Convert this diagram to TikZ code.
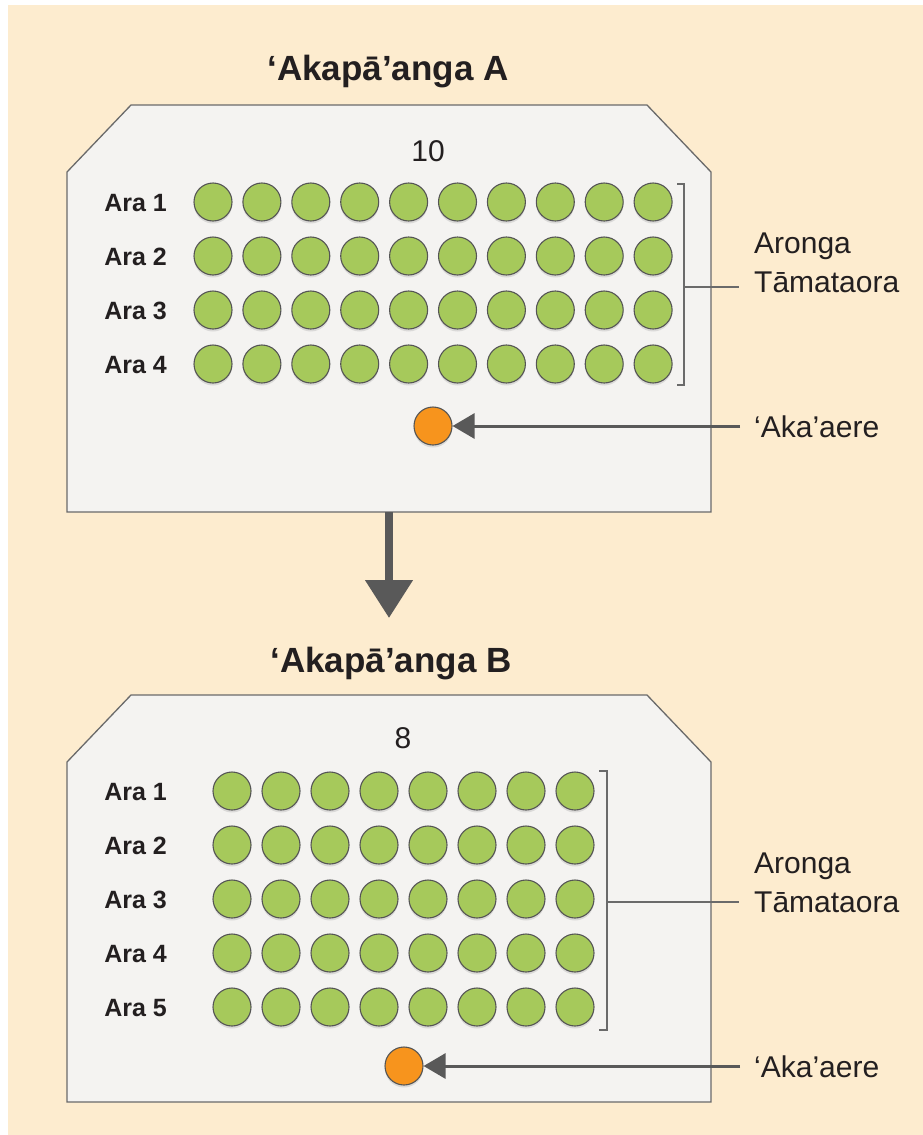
\documentclass[tikz,border=0pt]{standalone}
\usepackage{fontspec}
\setmainfont{Liberation Sans}
\usetikzlibrary{arrows.meta,shadows}
\definecolor{cream}{HTML}{FDECCF}
\definecolor{boxfill}{HTML}{F4F3F1}
\definecolor{boxline}{HTML}{6A6A6A}
\definecolor{seat}{HTML}{A6C95B}
\definecolor{seatline}{HTML}{555555}
\definecolor{teacher}{HTML}{F7941D}
\definecolor{arrowgray}{HTML}{595959}
\definecolor{ink}{HTML}{231F20}
\begin{document}
\begin{tikzpicture}[x=1pt,y=-1pt,
  room/.style={fill=boxfill,draw=boxline,line width=1.3pt},
  seatnode/.style={circle,minimum size=38pt,inner sep=0pt,fill=seat,draw=seatline,line width=1.1pt,
    drop shadow={shadow xshift=0pt,shadow yshift=-2.5pt,opacity=0.22}},
  teachernode/.style={circle,minimum size=38pt,inner sep=0pt,fill=teacher,draw=seatline,line width=1.1pt,
    drop shadow={shadow xshift=0pt,shadow yshift=-2.5pt,opacity=0.22}},
  rowlabel/.style={anchor=base east,font=\bfseries\fontsize{25}{29}\selectfont,text=ink,inner sep=0pt},
  titletext/.style={anchor=base,font=\bfseries\fontsize{35}{40}\selectfont,text=ink,inner sep=0pt},
  counttext/.style={anchor=base,font=\fontsize{30}{36}\selectfont,text=ink,inner sep=0pt},
  sidelabel/.style={anchor=base west,align=left,font=\fontsize{30}{39}\selectfont,text=ink,inner sep=0pt},
  bracketline/.style={draw=boxline,line width=1.6pt},
  pointer/.style={draw=arrowgray,line width=3pt,-{Triangle[length=22pt,width=25pt]}},
  bigarrow/.style={draw=arrowgray,line width=8pt,-{Triangle[length=38pt,width=46pt]}}
]
\useasboundingbox (0,0) rectangle (923,1135);
\fill[white] (0,0) rectangle (923,1135);
\fill[cream] (8,5) rectangle (923,1135);

% ---------- Room A ----------
\node[titletext] (titleA) at (388,80) {‘Akapā’anga A};
\draw[room] (67,172) -- (131,105) -- (647,105) -- (711,172) -- (711,512) -- (67,512) -- cycle;
\node[counttext] (countA) at (428,161) {10};
\foreach \r in {1,...,4} {
  \node[rowlabel] (araA-\r) at (167,{211+(\r-1)*54}) {Ara \r};
  \foreach \c in {1,...,10}
    \node[seatnode] (a-\r-\c) at ({213+(\c-1)*48.9},{202+(\r-1)*54}) {};
}
\draw[bracketline] (677,184) -- (684,184) -- (684,385) -- (677,385);
\coordinate (brA) at (684,287);
\coordinate (stemA) at (739,287);
\draw[bracketline] (brA) -- (stemA);
\node[sidelabel] (arongaA) at (754,292) {Aronga\\Tāmataora};
\node[teachernode] (teacherA) at (433,426) {};
\coordinate (akaAstart) at (740,426);
\draw[pointer] (akaAstart) -- (teacherA.east);
\node[sidelabel] (akaA) at (754,437) {‘Aka’aere};

% ---------- arrow between rooms ----------
\coordinate (boxAbottom) at (389,512);
\coordinate (arrowtip) at (389,618);
\draw[bigarrow] (boxAbottom) -- (arrowtip);

% ---------- Room B ----------
\node[titletext] (titleB) at (391,672) {‘Akapā’anga B};
\draw[room] (67,762) -- (131,695) -- (647,695) -- (711,762) -- (711,1102) -- (67,1102) -- cycle;
\node[counttext] (countB) at (403,748) {8};
\foreach \r in {1,...,5} {
  \node[rowlabel] (araB-\r) at (167,{800+(\r-1)*54}) {Ara \r};
  \foreach \c in {1,...,8}
    \node[seatnode] (b-\r-\c) at ({232+(\c-1)*49},{791+(\r-1)*54}) {};
}
\draw[bracketline] (599,771) -- (607,771) -- (607,1030) -- (599,1030);
\coordinate (brB) at (607,902);
\coordinate (stemB) at (739,902);
\draw[bracketline] (brB) -- (stemB);
\node[sidelabel] (arongaB) at (754,912) {Aronga\\Tāmataora};
\node[teachernode] (teacherB) at (404,1066) {};
\coordinate (akaBstart) at (740,1066);
\draw[pointer] (akaBstart) -- (teacherB.east);
\node[sidelabel] (akaB) at (754,1077) {‘Aka’aere};
\end{tikzpicture}
\end{document}
